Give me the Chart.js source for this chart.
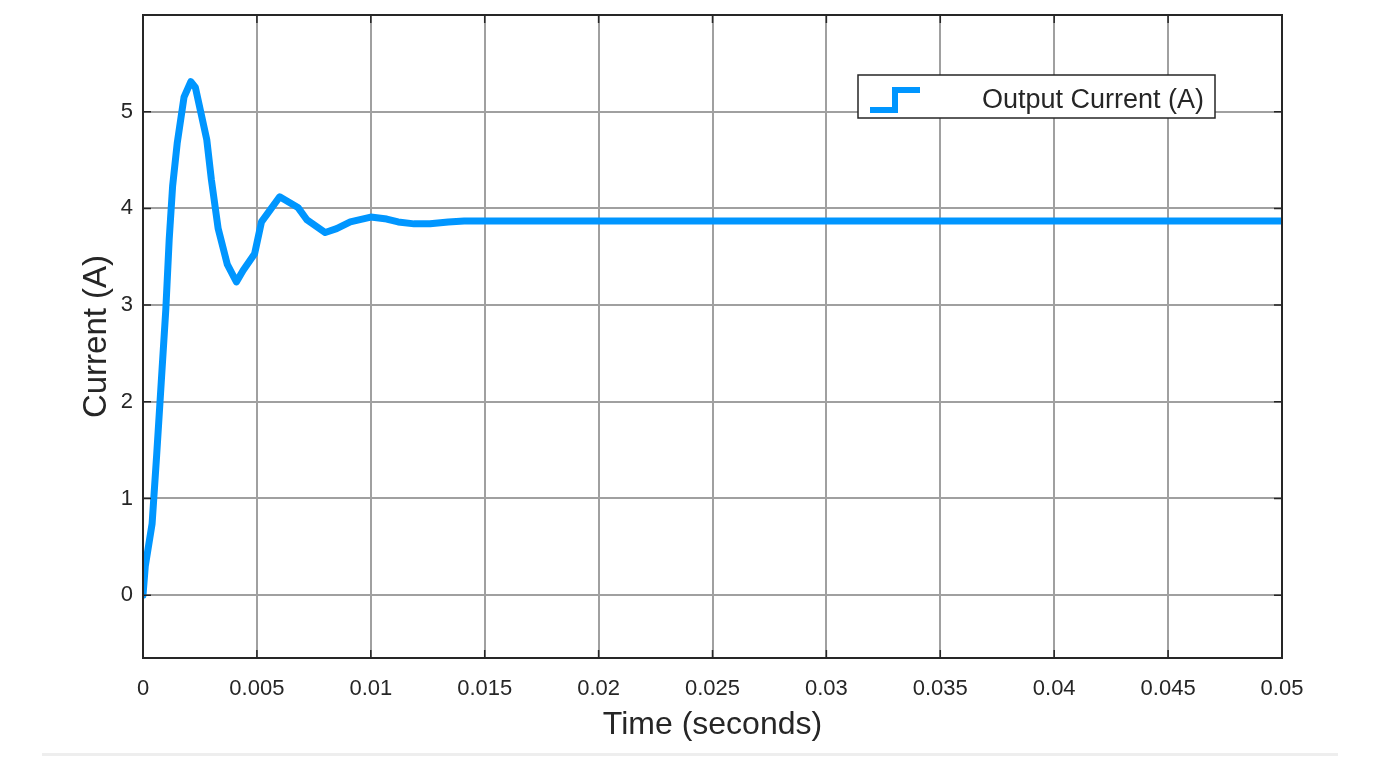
<!DOCTYPE html>
<html>
<head>
<meta charset="utf-8">
<script src="https://cdn.jsdelivr.net/npm/chart.js@4"></script>
<style>
  html, body { margin: 0; padding: 0; background: #fff; }
  #wrap { position: relative; width: 1378px; height: 758px; }
  #baseLine { position: absolute; left: 42px; top: 753px; width: 1296px; height: 3px; background: #eeeeee; }
</style>
</head>
<body>
<div id="wrap">
  <canvas id="currentChart" width="1378" height="758"></canvas>
  <div id="baseLine"></div>
</div>
<script>
// values
const time = [0, 0.0001, 0.0004, 0.0006, 0.0008, 0.001, 0.00115, 0.0013, 0.0015, 0.0018, 0.0021, 0.0023,
  0.0028, 0.003, 0.0033, 0.0037, 0.0041, 0.0044, 0.0049, 0.0052, 0.0056, 0.006, 0.0068, 0.0072,
  0.008, 0.0085, 0.0091, 0.01, 0.0107, 0.0112, 0.0119, 0.0126, 0.0134, 0.0141, 0.0153, 0.017,
  0.02, 0.025, 0.03, 0.035, 0.04, 0.045, 0.05];
const current = [0, 0.3, 0.74, 1.45, 2.2, 2.95, 3.68, 4.23, 4.67, 5.15, 5.31, 5.25,
  4.71, 4.3, 3.79, 3.42, 3.24, 3.36, 3.53, 3.86, 3.99, 4.12, 4.01, 3.88,
  3.75, 3.79, 3.86, 3.91, 3.89, 3.86, 3.84, 3.84, 3.86, 3.87, 3.87, 3.87,
  3.87, 3.87, 3.87, 3.87, 3.87, 3.87, 3.87];
const xTicks = [0, 0.005, 0.01, 0.015, 0.02, 0.025, 0.03, 0.035, 0.04, 0.045, 0.05];
const yTicks = [0, 1, 2, 3, 4, 5];
const seriesLabel = 'Output Current (A)';

const FONT = "'Liberation Sans', Arial, sans-serif";
const BLUE = '#0096ff';

const points = time.map((t, i) => ({ x: t, y: current[i] }));

// inward tick marks + box, like the original figure
const frameMarks = {
  id: 'frameMarks',
  afterDraw(chart) {
    const { ctx, chartArea: a, scales } = chart;
    ctx.save();
    ctx.strokeStyle = '#262626';
    ctx.lineWidth = 1.5;
    const len = 8;
    xTicks.forEach(v => {
      const px = scales.x.getPixelForValue(v);
      ctx.beginPath();
      ctx.moveTo(px, a.bottom); ctx.lineTo(px, a.bottom - len);
      ctx.moveTo(px, a.top); ctx.lineTo(px, a.top + len);
      ctx.stroke();
    });
    yTicks.forEach(v => {
      const py = scales.y.getPixelForValue(v);
      ctx.beginPath();
      ctx.moveTo(a.left, py); ctx.lineTo(a.left + len, py);
      ctx.moveTo(a.right, py); ctx.lineTo(a.right - len, py);
      ctx.stroke();
    });
    ctx.lineWidth = 2;
    ctx.strokeRect(a.left, a.top, a.right - a.left, a.bottom - a.top);
    ctx.restore();
  }
};

// legend box inside the plot
const boxLegend = {
  id: 'boxLegend',
  afterDraw(chart) {
    const ctx = chart.ctx;
    const ds = chart.data.datasets[0];
    const x = 858, y = 75, w = 357, h = 43;
    ctx.save();
    ctx.fillStyle = '#fff';
    ctx.fillRect(x, y, w, h);
    ctx.strokeStyle = '#262626';
    ctx.lineWidth = 1.5;
    ctx.strokeRect(x, y, w, h);
    ctx.strokeStyle = ds.borderColor;
    ctx.lineWidth = 6;
    ctx.lineJoin = 'miter';
    ctx.beginPath();
    ctx.moveTo(870, 110); ctx.lineTo(895, 110); ctx.lineTo(895, 90); ctx.lineTo(920, 90);
    ctx.stroke();
    ctx.fillStyle = '#262626';
    ctx.font = '27px ' + FONT;
    ctx.textAlign = 'right';
    ctx.textBaseline = 'middle';
    ctx.fillText(ds.label, 1204, 101);
    ctx.restore();
  }
};

new Chart(document.getElementById('currentChart'), {
  type: 'line',
  data: {
    datasets: [{
      label: seriesLabel,
      data: points,
      borderColor: BLUE,
      borderWidth: 7,
      borderJoinStyle: 'round',
      borderCapStyle: 'round',
      pointRadius: 0,
      tension: 0,
      fill: false
    }]
  },
  options: {
    responsive: false,
    animation: false,
    layout: { padding: { left: 77, top: 15, right: 96, bottom: 0 } },
    plugins: {
      legend: { display: false },
      tooltip: { enabled: false }
    },
    scales: {
      x: {
        type: 'linear',
        min: 0,
        max: 0.05,
        afterBuildTicks: (scale) => { scale.ticks = xTicks.map(v => ({ value: v })); },
        afterFit: (scale) => {
          scale.height = 100;
          scale.paddingLeft = 0;
          scale.paddingRight = 0;
        },
        grid: { color: '#a0a0a0', lineWidth: 2, drawTicks: false },
        border: { display: false },
        ticks: {
          color: '#262626',
          padding: 18,
          maxRotation: 0,
          autoSkip: false,
          font: { family: FONT, size: 22 },
          callback: (v) => String(v)
        },
        title: {
          display: true,
          text: 'Time (seconds)',
          color: '#262626',
          font: { family: FONT, size: 32 },
          padding: { top: 0, bottom: 14 }
        }
      },
      y: {
        min: -0.65,
        max: 6,
        afterBuildTicks: (scale) => { scale.ticks = yTicks.map(v => ({ value: v })); },
        afterFit: (scale) => {
          scale.width = 66;
          scale.paddingTop = 0;
          scale.paddingBottom = 0;
        },
        grid: { color: '#a0a0a0', lineWidth: 2, drawTicks: false },
        border: { display: false },
        ticks: {
          color: '#262626',
          padding: 10,
          font: { family: FONT, size: 22 },
          callback: (v) => String(v)
        },
        title: {
          display: true,
          text: 'Current (A)',
          color: '#262626',
          font: { family: FONT, size: 33 },
          padding: 0
        }
      }
    }
  },
  plugins: [frameMarks, boxLegend]
});
</script>
</body>
</html>
